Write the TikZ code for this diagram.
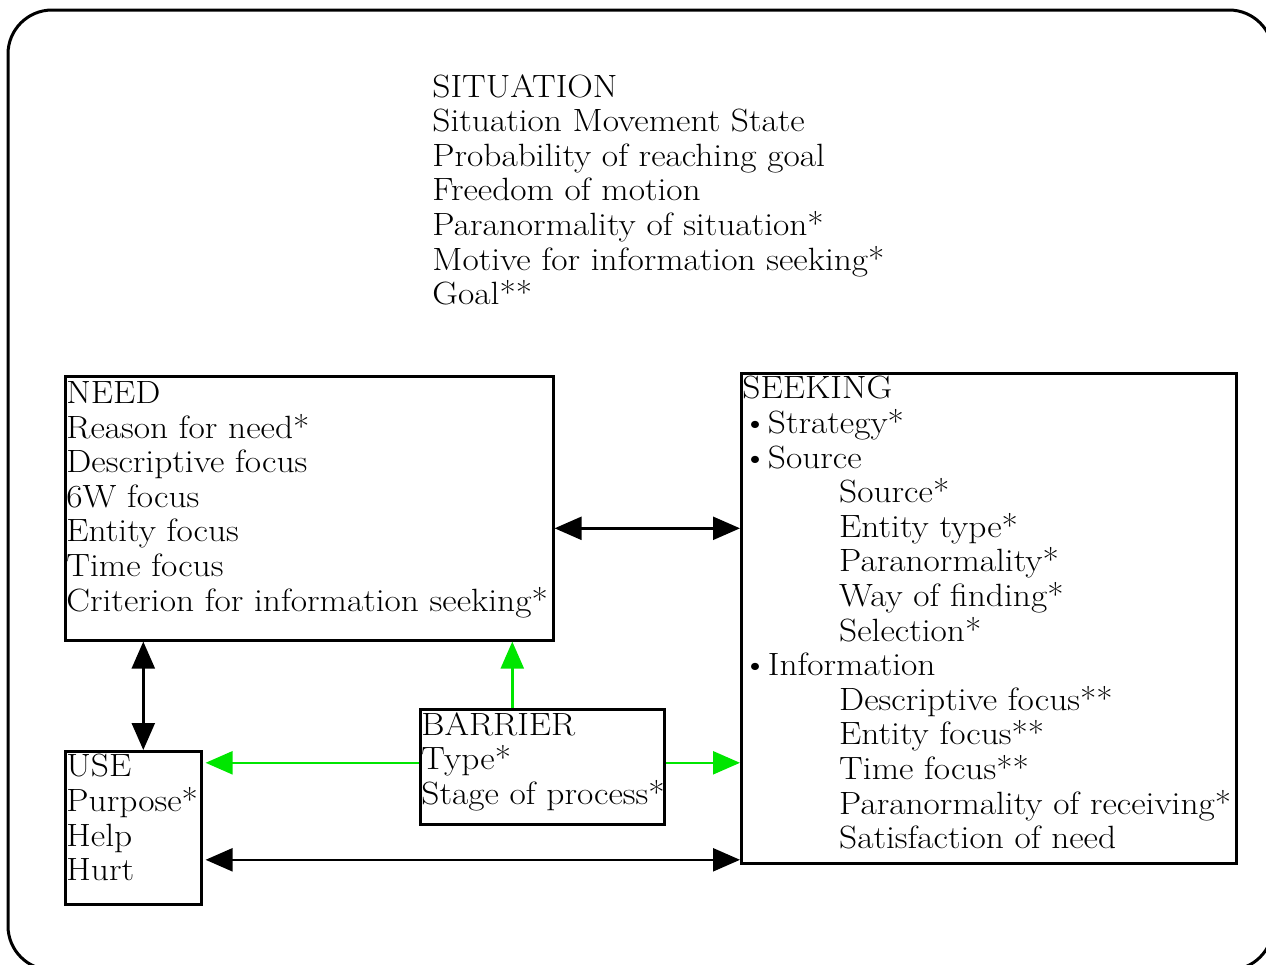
\documentclass[tikz,border=0pt]{standalone}
\usepackage{xcolor}
\usetikzlibrary{arrows.meta}
\definecolor{linkgreen}{HTML}{00E600}

\begin{document}
\begin{tikzpicture}[
    x=0.5pt, y=-0.5pt,
    frame/.style={draw=black, line width=1.5pt, rounded corners=22pt},
    box/.style={draw=black, line width=1.3pt, inner sep=0pt, anchor=north west},
    txt/.style={font=\fontsize{16.1}{17.3}\selectfont, align=left, inner sep=0pt,
      anchor=north west, xscale=1.1, transform shape},
    dbl/.style={{Triangle[length=13.5pt,width=11.5pt]}-{Triangle[length=13.5pt,width=11.5pt]}, line width=1.2pt},
    grn/.style={-{Triangle[length=13.5pt,width=11.5pt]}, draw=linkgreen, line width=1.2pt},
  ]
  \useasboundingbox (0,0) rectangle (1266,965);

  % ================= outer frame
  \draw[frame] (8,10) rectangle (1273,970);

  % ================= situation
  \node[txt] (situ) at (432,74) {SITUATION\\
    Situation Movement State\\
    Probability of reaching goal\\
    Freedom of motion\\
    Paranormality of situation*\\
    Motive for information seeking*\\
    Goal**};

  % ================= boxes
  \node[box, minimum width=244pt, minimum height=132pt] (need) at (64,375) {};
  \node[box, minimum width=247.5pt, minimum height=245pt] (seek) at (740,372) {};
  \node[box, minimum width=68pt, minimum height=76.5pt] (use) at (64,750) {};
  \node[box, minimum width=122pt, minimum height=57.5pt] (barrier) at (419,708) {};

  % box texts
  \node[txt] (needtxt) at ([shift={(1pt,-3pt)}]need.north west) {NEED\\
    Reason for need*\\
    Descriptive focus\\
    6W focus\\
    Entity focus\\
    Time focus\\
    Criterion for information seeking*};
  \node[txt] (seektxt) at ([shift={(1pt,-2pt)}]seek.north west) {SEEKING\\
    \textbullet Strategy*\\
    \textbullet Source\\
    \hspace*{44pt}Source*\\
    \hspace*{44pt}Entity type*\\
    \hspace*{44pt}Paranormality*\\
    \hspace*{44pt}Way of finding*\\
    \hspace*{44pt}Selection*\\
    \textbullet Information\\
    \hspace*{44pt}Descriptive focus**\\
    \hspace*{44pt}Entity focus**\\
    \hspace*{44pt}Time focus**\\
    \hspace*{44pt}Paranormality of receiving*\\
    \hspace*{44pt}Satisfaction of need};
  \node[txt] (usetxt) at ([shift={(1pt,-2pt)}]use.north west) {USE\\
    Purpose*\\
    Help\\
    Hurt};
  \node[txt] (bartxt) at ([shift={(1pt,-2pt)}]barrier.north west) {BARRIER\\
    Type*\\
    Stage of process*};

  % ================= black two-way links
  \draw[dbl] ([yshift=-10pt]need.east) -- ([yshift=-10pt]need.east -| seek.west);
  \draw[dbl] ([xshift=5pt]use.north) -- ([xshift=5pt]use.north |- need.south);
  \draw[dbl, shorten <=1.5pt] ([yshift=-16pt]use.east) -- ([yshift=-16pt]use.east -| seek.west);

  % ================= green links out of the barrier
  \draw[grn] ([xshift=-15pt]barrier.north) -- ([xshift=-15pt]barrier.north |- need.south);
  \draw[grn, shorten >=1.5pt] ([yshift=2pt]barrier.west) -- ([yshift=2pt]barrier.west -| use.east);
  \draw[grn] ([yshift=2pt]barrier.east) -- ([yshift=2pt]barrier.east -| seek.west);
\end{tikzpicture}
\end{document}
